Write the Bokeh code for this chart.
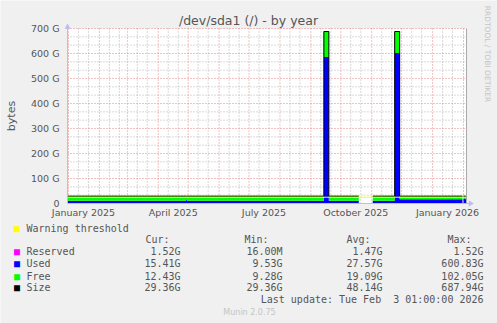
import numpy as np
import pandas as pd
from math import pi
from bokeh.plotting import figure
from bokeh.models import Range1d, Label, BoxAnnotation
from bokeh.core.properties import value
from bokeh.embed import file_html
from bokeh.resources import INLINE

# ---------------- data (values in G) ----------------
seg_start = ["2024-12-31", "2025-04-29", "2025-04-30", "2025-09-14", "2025-09-19",
             "2025-11-02", "2025-11-24", "2025-11-29", "2026-02-01", "2026-02-03"]
seg_end = ["2025-04-29", "2025-04-30", "2025-09-14", "2025-09-19", "2025-10-19",
           "2025-11-24", "2025-11-29", "2026-01-31", "2026-02-03", "2026-02-04"]
reserved_gb = [1.52, 1.52, 1.52, 1.52, 1.52, 1.52, 1.52, 1.52, 1.52, 1.52]
used_gb = [9.60, 12.40, 9.60, 584.40, 9.53, 9.60, 600.83, 15.41, 18.56, 15.41]
free_gb = [18.24, 15.44, 18.24, 102.05, 18.31, 18.24, 85.59, 12.43, 9.28, 12.43]
size_gb = [29.36, 29.36, 29.36, 687.97, 29.36, 29.36, 687.94, 29.36, 29.36, 29.36]
warning_gb = 25.0

y_ticks = [0, 100, 200, 300, 400, 500, 600, 700]
y_tick_labels = ["0", "100 G", "200 G", "300 G", "400 G", "500 G", "600 G", "700 G"]
x_tick_dates = ["2025-01-16", "2025-04-16", "2025-07-16", "2025-10-16", "2026-01-16"]
x_tick_labels = ["January 2025", "April 2025", "July 2025", "October 2025", "January 2026"]

legend_names = ["Reserved", "Used", "Free", "Size"]
legend_colors = ["#ff00ff", "#0000ff", "#00ff00", "#000000"]
cur_vals = ["1.52G", "15.41G", "12.43G", "29.36G"]
min_vals = ["16.00M", "9.53G", "9.28G", "29.36G"]
avg_vals = ["1.47G", "27.57G", "19.09G", "48.14G"]
max_vals = ["1.52G", "600.83G", "102.05G", "687.94G"]

x_start = pd.Timestamp("2024-12-31")
x_end = pd.Timestamp("2026-02-04")
y_min, y_max = 0, 700

# ---------------- layout: the frame is the whole 497x323 canvas ----------------
W, H = 497, 323
PL, PR, PT, PB = 67, 466, 28, 203          # graph area in canvas pixels
dpp = (x_end - x_start) / (PR - PL)         # time per pixel
gpp = (y_max - y_min) / (PB - PT)           # G per pixel
xr = Range1d(x_start - PL * dpp, x_end + (W - PR) * dpp)
yr = Range1d(y_min - (H - PB) * gpp, y_max + PT * gpp)

p = figure(width=W, height=H, x_axis_type="datetime", x_range=xr, y_range=yr,
           x_axis_location=None, y_axis_location=None,
           output_backend="svg", toolbar_location=None, min_border=0)
p.title.visible = False
p.background_fill_color = "#f0f0f0"
p.border_fill_color = "#f0f0f0"
p.outline_line_color = None
p.grid.visible = False

# white canvas of the graph area
p.add_layout(BoxAnnotation(left=x_start, right=x_end, bottom=y_min, top=y_max,
                           fill_color="#ffffff", fill_alpha=1.0, line_color=None,
                           level="underlay"))

# grids (bounded to the graph area)
month_starts = list(pd.date_range("2025-01-01", "2026-02-01", freq="MS"))
minor_days = [d + pd.Timedelta(days=k) for d in month_starts for k in (10, 20)
              if d + pd.Timedelta(days=k) < x_end]
y_minor = [v for v in np.arange(0, 701, 100 / 3) if v % 100 > 1e-6 and 100 - v % 100 > 1e-6]

def vgrid(ticks, color):
    n = len(ticks)
    p.segment(x0=ticks, y0=[y_min] * n, x1=ticks, y1=[y_max] * n,
              line_color=color, line_width=1, line_dash="1 2")

def hgrid(ticks, color):
    n = len(ticks)
    p.segment(x0=[x_start] * n, y0=ticks, x1=[x_end] * n, y1=ticks,
              line_color=color, line_width=1, line_dash="1 2")

vgrid(minor_days, "#b4b4b4")
hgrid(y_minor, "#b4b4b4")
vgrid(month_starts, "#e48484")
hgrid(y_ticks[1:], "#e48484")

# ---------------- data drawing ----------------
t0 = pd.to_datetime(seg_start)
t1 = pd.to_datetime(seg_end)
res = np.array(reserved_gb)
top_r = res
top_u = res + np.array(used_gb)
top_f = top_u + np.array(free_gb)
size = np.array(size_gb)

blocks, cur = [], [0]
for i in range(1, len(seg_start)):
    if t0[i] == t1[i - 1]:
        cur.append(i)
    else:
        blocks.append(cur)
        cur = [i]
blocks.append(cur)

for b in blocks:
    xs, r, u, f, s = [], [], [], [], []
    for i in b:
        xs += [t0[i], t1[i]]
        r += [top_r[i]] * 2
        u += [top_u[i]] * 2
        f += [top_f[i]] * 2
        s += [size[i]] * 2
    zeros = [0] * len(xs)
    p.varea(x=xs, y1=zeros, y2=r, fill_color="#ff00ff")
    p.varea(x=xs, y1=r, y2=u, fill_color="#0000ff")
    p.varea(x=xs, y1=u, y2=f, fill_color="#00ff00")
    p.line(x=xs, y=s, line_color="#000000", line_width=1)

# warning threshold
p.line(x=[x_start, x_end], y=[warning_gb, warning_gb], line_color="#ffff00", line_width=1)

# axes lines (+ arrows) and right border
p.line(x=[x_start, x_start], y=[y_min, y_max], line_color="#bcbcf4", line_width=1)
p.line(x=[x_start, x_end + 4 * dpp], y=[y_min, y_min], line_color="#bcbcf4", line_width=1)
p.line(x=[x_end, x_end], y=[y_min, y_max], line_color="#a8a8a8", line_width=1)
p.scatter(x=[x_start], y=[y_max + 1.5 * gpp], marker="triangle", size=6,
          fill_color="#bcbcf4", line_color=None)
p.scatter(x=[x_end + 4 * dpp], y=[y_min], marker="triangle", angle=-pi / 2, size=6,
          fill_color="#bcbcf4", line_color=None)

# tick labels through the scales
p.text(x=[x_start] * len(y_ticks), y=y_ticks, text=y_tick_labels, x_offset=-8,
       text_align="right", text_baseline="middle", text_font=value("DejaVu Sans"),
       text_font_size="9.5px", text_color="#555555")
p.text(x=pd.to_datetime(x_tick_dates), y=[y_min] * len(x_tick_dates), text=x_tick_labels,
       y_offset=3, text_align="center", text_baseline="top", text_font=value("DejaVu Sans"),
       text_font_size="9.5px", text_color="#555555")

# ---------------- texts (canvas pixel positions) ----------------
def lab(text, cx, cy, size="10px", font="DejaVu Sans Mono", color="#555555",
        align="left", angle=0.0):
    p.add_layout(Label(x=cx, y=H - cy, x_units="screen", y_units="screen",
                       text=text, text_font=font, text_font_size=size,
                       text_color=color, text_align=align, text_baseline="middle",
                       angle=angle))

lab("/dev/sda1 (/) - by year", 248, 20, size="12.5px", font="DejaVu Sans", align="center")
lab("bytes", 11, 115.5, size="11px", font="DejaVu Sans", align="center", angle=pi / 2)
lab("RRDTOOL / TOBI OETIKER", 487, 53.5, size="7.5px", font="DejaVu Sans",
    color="#c4c4c4", align="center", angle=-pi / 2)

lab("■", 16.5, 227.7, color="#ffff00", align="center")
lab("Warning threshold", 26, 227.7)
for h, hx in zip(["Cur:", "Min:", "Avg:", "Max:"], [145, 244, 346, 447]):
    lab(h, hx, 239.3)
row_y = [251.0, 263.3, 275.5, 287.4]
for name, col, c, mn, av, mx, ry in zip(legend_names, legend_colors, cur_vals,
                                         min_vals, avg_vals, max_vals, row_y):
    lab("■", 16.5, ry, color=col, align="center")
    lab(name, 26, ry)
    lab(c, 180, ry, align="right")
    lab(mn, 282, ry, align="right")
    lab(av, 382, ry, align="right")
    lab(mx, 483, ry, align="right")
lab("Last update: Tue Feb \u00a03 01:00:00 2026", 483, 299.3, align="right")
lab("Munin 2.0.75", 249, 312, size="8px", font="DejaVu Sans", color="#c4c4c4", align="center")

open("out.html", "w").write(file_html(p, INLINE))
